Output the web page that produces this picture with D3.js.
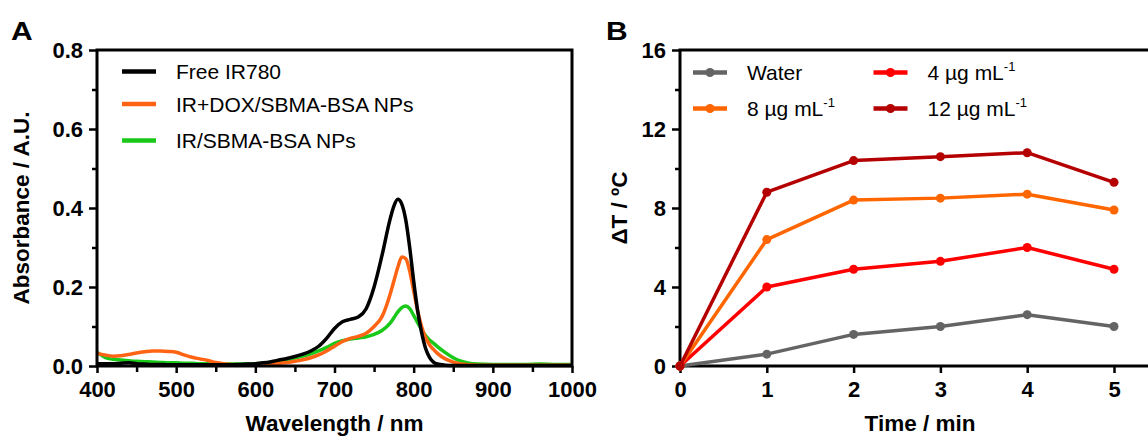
<!DOCTYPE html>
<html><head><meta charset="utf-8">
<script src="https://cdn.jsdelivr.net/npm/d3@7"></script>
<style>
html,body{margin:0;padding:0;background:#fff;}
svg{display:block;font-family:"Liberation Sans",Arial,sans-serif;}
</style></head><body>
<svg id="c" width="1148" height="437"></svg>
<script>
// ---------- Panel A data ----------
const wavelengths = [400,410,420,430,440,450,460,470,480,490,500,510,520,530,540,550,560,570,580,590,600,610,620,630,640,650,660,670,680,690,700,710,720,730,740,750,760,770,775,780,785,790,795,800,805,810,815,820,825,830,840,850,860,870,880,900,920,940,960,980,1000];
const freeIR780 = [0.006,0.006,0.006,0.007,0.008,0.006,0.005,0.004,0.004,0.003,0.003,0.003,0.003,0.003,0.003,0.003,0.003,0.003,0.004,0.005,0.006,0.008,0.011,0.015,0.019,0.024,0.030,0.038,0.050,0.070,0.095,0.112,0.118,0.124,0.145,0.200,0.280,0.370,0.405,0.422,0.410,0.370,0.300,0.215,0.140,0.085,0.045,0.022,0.010,0.005,0.002,0.001,0.001,0.001,0.001,0.001,0.001,0.001,0.001,0.001,0.001];
const irDoxNPs  = [0.032,0.028,0.025,0.026,0.029,0.033,0.036,0.038,0.038,0.037,0.035,0.028,0.022,0.018,0.014,0.009,0.006,0.004,0.003,0.003,0.003,0.004,0.005,0.007,0.009,0.012,0.016,0.021,0.028,0.038,0.050,0.062,0.070,0.075,0.083,0.100,0.125,0.180,0.215,0.250,0.276,0.272,0.240,0.190,0.140,0.100,0.072,0.054,0.042,0.032,0.018,0.010,0.005,0.003,0.002,0.002,0.002,0.002,0.002,0.002,0.002];
const irNPs     = [0.035,0.022,0.017,0.015,0.013,0.012,0.011,0.010,0.009,0.008,0.008,0.007,0.007,0.006,0.006,0.005,0.005,0.005,0.005,0.005,0.006,0.007,0.009,0.012,0.016,0.020,0.025,0.031,0.038,0.047,0.057,0.064,0.068,0.071,0.074,0.080,0.090,0.108,0.122,0.137,0.148,0.152,0.145,0.128,0.110,0.092,0.077,0.066,0.058,0.049,0.034,0.021,0.012,0.007,0.005,0.004,0.004,0.004,0.005,0.004,0.004];
const seriesANames = ["Free IR780","IR+DOX/SBMA-BSA NPs","IR/SBMA-BSA NPs"];
const seriesAColors = ["#000000","#ff6414","#19c819"];
const xTicksA = [400,500,600,700,800,900,1000];
const yTicksA = [0.0,0.2,0.4,0.6,0.8];

// ---------- Panel B data ----------
const times = [0,1,2,3,4,5];
const water = [0,0.6,1.6,2.0,2.6,2.0];
const conc4 = [0,4.0,4.9,5.3,6.0,4.9];
const conc8 = [0,6.4,8.4,8.5,8.7,7.9];
const conc12 = [0,8.8,10.4,10.6,10.8,9.3];
const seriesBNames = ["Water","4 µg mL","8 µg mL","12 µg mL"];
const seriesBSup = ["","-1","-1","-1"];
const seriesBColors = ["#646464","#ff0000","#ff6600","#b40000"];
const xTicksB = [0,1,2,3,4,5];
const yTicksB = [0,4,8,12,16];

const svg = d3.select("#c");
const FONT = '"Liberation Sans",Arial,sans-serif';

function styleAxis(g, labelSize){
  g.selectAll(".domain").remove();
  g.selectAll(".tick line").attr("stroke","#000").attr("stroke-width",2.5);
  g.selectAll(".tick text").attr("font-family",FONT).attr("font-weight","bold")
   .attr("font-size",labelSize).attr("fill","#000");
}

// ================= Panel A =================
const xA = d3.scaleLinear().domain([400,1000]).range([97,572]);
const yA = d3.scaleLinear().domain([0,0.8]).range([366,50]);

const gA = svg.append("g");
const lineA = d3.line().x((d,i)=>xA(wavelengths[i])).y(d=>yA(d)).curve(d3.curveMonotoneX);
[[irNPs,2],[irDoxNPs,1],[freeIR780,0]].forEach(([vals,ci])=>{
  gA.append("path").datum(vals).attr("d",lineA).attr("fill","none")
    .attr("stroke",seriesAColors[ci]).attr("stroke-width",3.5).attr("stroke-linejoin","round");
});
const gAxm = gA.append("g").attr("transform","translate(0,366)")
  .call(d3.axisBottom(xA).tickValues(d3.range(450,1000,100)).tickSize(6).tickFormat(""));
styleAxis(gAxm,21);
const gAym = gA.append("g").attr("transform","translate(97,0)")
  .call(d3.axisLeft(yA).tickValues([0.1,0.3,0.5,0.7]).tickSize(5).tickFormat(""));
styleAxis(gAym,21);
const gAx = gA.append("g").attr("transform","translate(0,366)")
  .call(d3.axisBottom(xA).tickValues(xTicksA).tickSize(7).tickPadding(8).tickFormat(d3.format("d")));
styleAxis(gAx,22);
const gAy = gA.append("g").attr("transform","translate(97,0)")
  .call(d3.axisLeft(yA).tickValues(yTicksA).tickSize(8).tickPadding(6).tickFormat(d3.format(".1f")));
styleAxis(gAy,22);
gA.append("path").attr("d",`M${xA(400)},${yA(0.8)}V${yA(0)}H${xA(1000)}V${yA(0.8)}Z`)
  .attr("fill","none").attr("stroke","#000").attr("stroke-width",3);
gA.append("text").attr("x",(xA(400)+xA(1000))/2).attr("y",431).attr("text-anchor","middle")
  .attr("font-weight","bold").attr("font-size",22.5).text("Wavelength / nm");
gA.append("text").attr("transform",`translate(29,${(yA(0)+yA(0.8))/2}) rotate(-90)`)
  .attr("text-anchor","middle").attr("font-weight","bold").attr("font-size",22.5).text("Absorbance / A.U.");
gA.append("text").attr("x",11).attr("y",40).attr("font-weight","bold").attr("font-size",25)
  .attr("transform","translate(11,40) scale(1.2,1) translate(-11,-40)").text("A");
const legA = [71.5,104,140.5];
seriesANames.forEach((n,i)=>{
  gA.append("line").attr("x1",122).attr("x2",156).attr("y1",legA[i]).attr("y2",legA[i])
    .attr("stroke",seriesAColors[i]).attr("stroke-width",4.5);
  gA.append("text").attr("x",176).attr("y",legA[i]+7.5).attr("font-size",21).text(n);
});

// ================= Panel B =================
const xB = d3.scaleLinear().domain([0,5.5]).range([680,680+5.5*86.8]);
const yB = d3.scaleLinear().domain([0,16]).range([366,50]);
const gB = svg.append("g");

const gBym = gB.append("g").attr("transform","translate(680,0)")
  .call(d3.axisLeft(yB).tickValues([2,6,10,14]).tickSize(5).tickFormat(""));
styleAxis(gBym,21);
const gBx = gB.append("g").attr("transform","translate(0,366)")
  .call(d3.axisBottom(xB).tickValues(xTicksB).tickSize(7).tickPadding(8).tickFormat(d3.format("d")));
styleAxis(gBx,22);
const gBy = gB.append("g").attr("transform","translate(680,0)")
  .call(d3.axisLeft(yB).tickValues(yTicksB).tickSize(8).tickPadding(6).tickFormat(d3.format("d")));
styleAxis(gBy,22);
gB.append("path").attr("d",`M${xB(0)},${yB(16)}V${yB(0)}H${xB(5.5)}V${yB(16)}Z`)
  .attr("fill","none").attr("stroke","#000").attr("stroke-width",3);

const lineB = d3.line().x((d,i)=>xB(times[i])).y(d=>yB(d));
const seriesB = [water,conc4,conc8,conc12];
seriesB.forEach((vals,i)=>{
  gB.append("path").datum(vals).attr("d",lineB).attr("fill","none")
    .attr("stroke",seriesBColors[i]).attr("stroke-width",3.5).attr("stroke-linejoin","round");
  gB.selectAll(null).data(vals).enter().append("circle")
    .attr("cx",(d,j)=>xB(times[j])).attr("cy",d=>yB(d)).attr("r",4.5).attr("fill",seriesBColors[i]);
});

gB.append("text").attr("x",920).attr("y",431).attr("text-anchor","middle")
  .attr("font-weight","bold").attr("font-size",22.5).text("Time / min");
gB.append("text").attr("transform",`translate(627,${(yB(0)+yB(16))/2}) rotate(-90)`)
  .attr("text-anchor","middle").attr("font-weight","bold").attr("font-size",22.5).text("ΔT / ºC");
gB.append("text").attr("x",606).attr("y",40).attr("font-weight","bold").attr("font-size",25)
  .attr("transform","translate(606,40) scale(1.2,1) translate(-606,-40)").text("B");

const legPos = [[693,72.5],[873.5,72.5],[693,108.5],[873.5,108.5]];
seriesBNames.forEach((n,i)=>{
  const [lx,ly] = legPos[i];
  gB.append("line").attr("x1",lx).attr("x2",lx+34).attr("y1",ly).attr("y2",ly)
    .attr("stroke",seriesBColors[i]).attr("stroke-width",4.5);
  gB.append("circle").attr("cx",lx+17).attr("cy",ly).attr("r",4.5).attr("fill",seriesBColors[i]);
  const t = gB.append("text").attr("x",lx+54).attr("y",ly+7.5).attr("font-size",21).text(n);
  if(seriesBSup[i]) t.append("tspan").attr("dy",-9).attr("font-size",13).text(seriesBSup[i]);
});
</script>
</body></html>
